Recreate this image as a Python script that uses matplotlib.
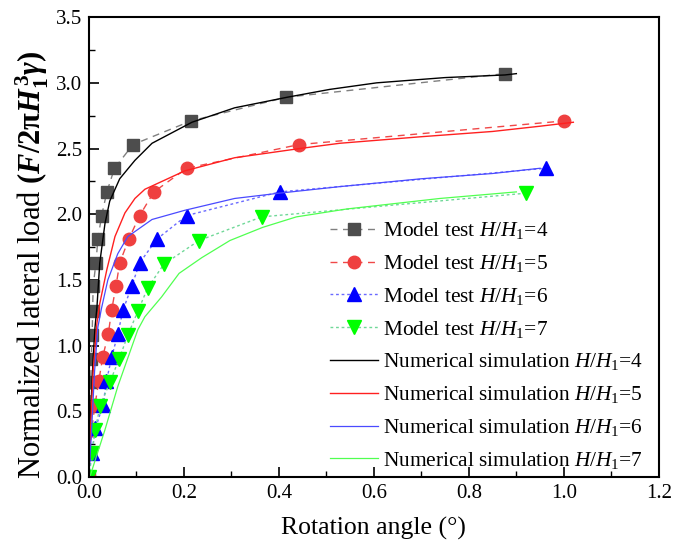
import matplotlib
matplotlib.use('Agg')
import matplotlib.pyplot as plt
from matplotlib.ticker import MultipleLocator

plt.rcParams['font.family'] = ['Liberation Serif', 'DejaVu Serif']
plt.rcParams['mathtext.fontset'] = 'custom'
plt.rcParams['mathtext.rm'] = 'Liberation Serif'
plt.rcParams['mathtext.it'] = 'Liberation Serif:italic'
plt.rcParams['mathtext.bf'] = 'Liberation Serif:bold'
plt.rcParams['mathtext.bfit'] = 'Liberation Serif:bold:italic'

# model test data (rotation angle, normalized load)
test4_x = [0, 0.001, 0.002, 0.003, 0.004, 0.005, 0.007, 0.008, 0.009, 0.015, 0.019, 0.027, 0.038, 0.054, 0.093, 0.215, 0.415, 0.876]
test4_y = [0, 0.18, 0.36, 0.54, 0.72, 0.90, 1.08, 1.26, 1.45, 1.63, 1.81, 1.99, 2.17, 2.35, 2.53, 2.71, 2.89, 3.07]
test5_x = [0, 0.002, 0.006, 0.013, 0.021, 0.029, 0.041, 0.048, 0.057, 0.065, 0.084, 0.107, 0.137, 0.206, 0.442, 1.0]
test5_y = [0, 0.18, 0.36, 0.55, 0.73, 0.91, 1.09, 1.27, 1.45, 1.63, 1.81, 1.99, 2.17, 2.35, 2.53, 2.71]
test6_x = [0, 0.006, 0.014, 0.030, 0.037, 0.048, 0.061, 0.072, 0.090, 0.107, 0.143, 0.206, 0.402, 0.962]
test6_y = [0, 0.18, 0.37, 0.55, 0.73, 0.91, 1.09, 1.27, 1.45, 1.63, 1.81, 1.99, 2.17, 2.35]
test7_x = [0, 0.007, 0.013, 0.024, 0.044, 0.064, 0.082, 0.103, 0.124, 0.158, 0.232, 0.364, 0.920]
test7_y = [0, 0.18, 0.36, 0.54, 0.72, 0.90, 1.08, 1.26, 1.44, 1.62, 1.80, 1.98, 2.16]

# numerical simulation curves
sim4_x = [0, 0.004, 0.009, 0.013, 0.017, 0.023, 0.034, 0.044, 0.065, 0.097, 0.133, 0.217, 0.307, 0.417, 0.507, 0.606, 0.75, 0.876, 0.9]
sim4_y = [0, 0.50, 0.90, 1.14, 1.29, 1.63, 1.93, 2.10, 2.27, 2.41, 2.54, 2.70, 2.81, 2.89, 2.95, 3.00, 3.04, 3.06, 3.07]
sim5_x = [0, 0.004, 0.009, 0.017, 0.023, 0.038, 0.055, 0.076, 0.097, 0.118, 0.16, 0.202, 0.307, 0.444, 0.528, 0.7, 0.85, 0.95, 1.02]
sim5_y = [0, 0.40, 0.80, 1.17, 1.32, 1.58, 1.83, 2.01, 2.12, 2.19, 2.26, 2.33, 2.43, 2.50, 2.54, 2.59, 2.63, 2.67, 2.70]
sim6_x = [0, 0.005, 0.012, 0.019, 0.027, 0.04, 0.061, 0.082, 0.133, 0.202, 0.307, 0.4, 0.528, 0.7, 0.85, 0.95]
sim6_y = [0, 0.30, 0.80, 1.14, 1.29, 1.50, 1.70, 1.83, 1.96, 2.03, 2.12, 2.16, 2.21, 2.27, 2.31, 2.35]
sim7_x = [0, 0.002, 0.034, 0.061, 0.103, 0.118, 0.153, 0.19, 0.238, 0.297, 0.366, 0.437, 0.543, 0.739, 0.9]
sim7_y = [0, 0.0, 0.36, 0.69, 1.12, 1.22, 1.37, 1.55, 1.67, 1.80, 1.90, 1.98, 2.04, 2.12, 2.17]

labels_test = [r'Model test $H/H_{\rm 1}$=4', r'Model test $H/H_{\rm 1}$=5',
               r'Model test $H/H_{\rm 1}$=6', r'Model test $H/H_{\rm 1}$=7']
labels_sim = [r'Numerical simulation $H/H_{\rm 1}$=4', r'Numerical simulation $H/H_{\rm 1}$=5',
              r'Numerical simulation $H/H_{\rm 1}$=6', r'Numerical simulation $H/H_{\rm 1}$=7']

fig = plt.figure(figsize=(6.73, 5.53), dpi=100)
ax = fig.add_axes([0.132, 0.1374, 0.847, 0.8316])

ax.plot(test4_x, test4_y, ls=(0, (5, 4)), color='#808080', lw=1, marker='s', ms=8.5,
        mfc='#4d4d4d', mec='#4d4d4d', label=labels_test[0])
ax.plot(test5_x, test5_y, ls=(0, (5, 4)), color='#f04848', lw=1, marker='o', ms=9,
        mfc='#ef4040', mec='#ef4040', label=labels_test[1])
ax.plot(test6_x, test6_y, ls=(0, (2, 2)), color='#6a6aff', lw=1, marker='^', ms=9.5,
        mfc='#0000ff', mec='#0000ff', label=labels_test[2])
ax.plot(test7_x, test7_y, ls=(0, (2, 2)), color='#70d898', lw=1, marker='v', ms=9.5,
        mfc='#00ff00', mec='#00ff00', label=labels_test[3])

ax.plot(sim4_x, sim4_y, color='black', lw=1, label=labels_sim[0])
ax.plot(sim5_x, sim5_y, color='#ff2020', lw=1, label=labels_sim[1])
ax.plot(sim6_x, sim6_y, color='#4a4aff', lw=0.9, label=labels_sim[2])
ax.plot(sim7_x, sim7_y, color='#50ff50', lw=0.9, label=labels_sim[3])

ax.set_xlim(0, 1.2)
ax.set_ylim(0, 3.5)
ax.xaxis.set_major_locator(MultipleLocator(0.2))
ax.xaxis.set_minor_locator(MultipleLocator(0.1))
ax.yaxis.set_major_locator(MultipleLocator(0.5))
ax.yaxis.set_minor_locator(MultipleLocator(0.25))
ax.xaxis.set_major_formatter(plt.FormatStrFormatter('%.1f'))
ax.yaxis.set_major_formatter(plt.FormatStrFormatter('%.1f'))
ax.tick_params(which='major', direction='in', length=7, width=1.2, labelsize=15, pad=5)
ax.tick_params(which='minor', direction='in', length=4, width=1.0)
for sp in ax.spines.values():
    sp.set_linewidth(1.5)

ax.set_xlabel('Rotation angle (°)', fontsize=18.5, labelpad=10)
ax.set_ylabel(r'Normalized lateral load $\mathbf{(}\mathbfit{F}\mathbf{/2\pi}\mathbfit{H}_{\mathbf{1}}^{\mathbf{\,3}}\mathbfit{\gamma}\mathbf{)}$',
              fontsize=22)
ax.yaxis.set_label_coords(-0.066, 0.46)

ax.legend(loc='upper left', bbox_to_anchor=(0.423, 0.558), frameon=False, fontsize=15.4,
          handlelength=2.25, handletextpad=0.25, labelspacing=0.55, borderpad=0, borderaxespad=0)

fig.savefig('out.png', dpi=100)
